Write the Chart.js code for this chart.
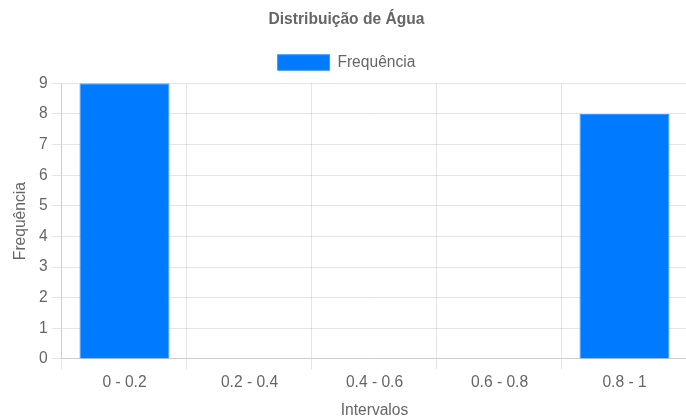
<!DOCTYPE html>
<html>
<head>
<meta charset="utf-8">
<script src="https://cdn.jsdelivr.net/npm/chart.js"></script>
<style>
  body { margin: 0; background: #fff; overflow: hidden; }
  #wrap { width: 687px; height: 425px; }
</style>
</head>
<body>
<div id="wrap"><canvas id="chart"></canvas></div>
<script>
const labels = ["0 - 0.2", "0.2 - 0.4", "0.4 - 0.6", "0.6 - 0.8", "0.8 - 1"];
const frequencies = [9, 0, 0, 0, 8];

// reference looks like a default chart zoomed ~1.3x, so scale the defaults
const k = 1.3;
const fs = 12 * k;

// a bit more room under the legend
const legendGap = {
  id: "legendGap",
  beforeInit(chart) {
    const fit = chart.legend.fit;
    chart.legend.fit = function () {
      fit.bind(chart.legend)();
      this.height += 3;
    };
  }
};

const ctx = document.getElementById("chart");

new Chart(ctx, {
  type: "bar",
  data: {
    labels,
    datasets: [{
      label: "Frequência",
      data: frequencies,
      backgroundColor: "#007bff",
      borderColor: "#3d95ff",
      borderWidth: 1
    }]
  },
  plugins: [legendGap],
  options: {
    responsive: true,
    maintainAspectRatio: false,
    animation: false,
    layout: { padding: { left: 6 } },
    plugins: {
      title: {
        display: true,
        text: "Distribuição de Água",
        color: "#666",
        font: { size: fs, weight: "bold" },
        padding: { top: 10, bottom: 10 }
      },
      legend: {
        labels: {
          color: "#666",
          font: { size: fs },
          boxWidth: 40 * k,
          padding: 16
        }
      }
    },
    scales: {
      x: {
        title: { display: true, text: "Intervalos", color: "#666", font: { size: fs }, padding: 4 * k },
        ticks: { color: "#666", font: { size: fs }, padding: 3 * k },
        grid: { tickLength: 8 * k }
      },
      y: {
        beginAtZero: true,
        max: 9,
        ticks: { stepSize: 1, color: "#666", font: { size: fs }, padding: 3 * k },
        grid: { tickLength: 8 * k },
        title: { display: true, text: "Frequência", color: "#666", font: { size: fs }, padding: 4 * k }
      }
    }
  }
});
</script>
</body>
</html>
